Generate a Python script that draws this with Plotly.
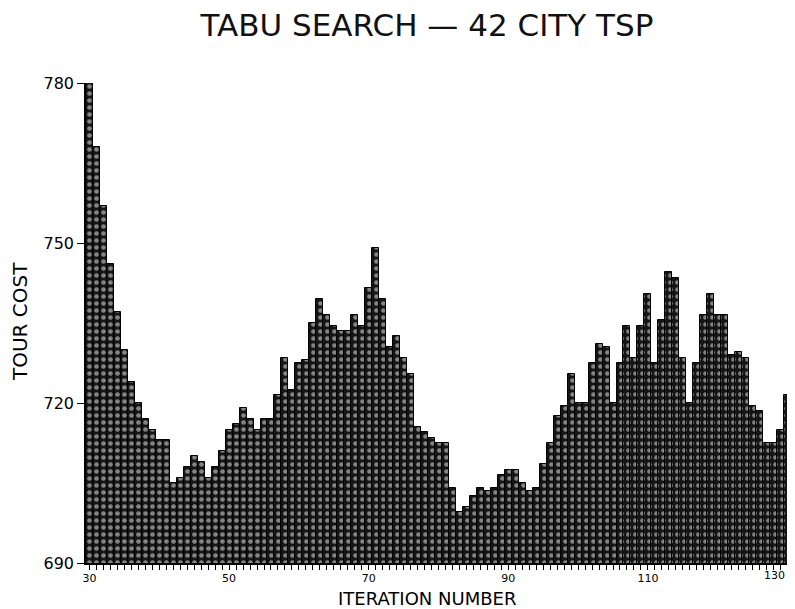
import plotly.graph_objects as go

iterations = list(range(30, 131))
tour_cost = [
    780, 768, 757, 746, 737, 730, 724, 720, 717, 715,
    713, 713, 705, 706, 708, 710, 709, 706, 708, 711,
    715, 716, 719, 717, 715, 717, 717, 721.5, 728.5, 722.5,
    727.5, 728, 735, 739.5, 736.5, 734.5, 733.5, 733.5, 736.5, 734.5,
    741.5, 749, 739.5, 730.5, 732.5, 728.5, 725.5, 715.5, 714.5, 713.5,
    712.5, 712.5, 704, 699.5, 700.5, 702.5, 704, 703.5, 704, 706.5,
    707.5, 707.5, 705, 703.5, 704, 708.5, 712.5, 717.5, 719.5, 725.5,
    720, 720, 727.5, 731, 730.5, 720, 727.5, 734.5, 728.5, 734.5,
    740.5, 727.5, 735.5, 744.5, 743.5, 728.5, 720, 727.5, 736.5, 740.5,
    736.5, 736.5, 729, 729.5, 728.5, 719.5, 718.5, 712.5, 712.5, 715,
    721.5,
]
x_tick_vals = [30, 50, 70, 90, 110, 130]
x_tick_text = ["30", "50", "70", "90", "110", ""]
last_tick_label = "130"
y_tick_vals = [690, 720, 750, 780]

fig = go.Figure(
    go.Bar(
        x=iterations,
        y=tour_cost,
        marker=dict(
            color="#222222",
            line=dict(color="black", width=1),
            pattern=dict(shape=".", bgcolor="#151515", fgcolor="#f4f4f4",
                         size=7, solidity=0.35),
        ),
        width=1,
    )
)

font = "DejaVu Sans"
fig.update_layout(
    width=795, height=609,
    margin=dict(l=78, r=12, t=75, b=54, autoexpand=False),
    paper_bgcolor="white", plot_bgcolor="white",
    bargap=0, showlegend=False,
    title=dict(text="TABU SEARCH \u2014 42 CITY TSP", x=0.527, xanchor="center",
               y=1 - 17 / 609, yanchor="middle", yref="container",
               font=dict(family=font, size=31, color="#111")),
    xaxis=dict(range=[29.5, 130.5], tickvals=x_tick_vals, ticktext=x_tick_text,
               ticks="outside", ticklen=4, tickwidth=1, tickcolor="black",
               automargin=False,
               showline=True, linecolor="black", linewidth=1.5,
               showgrid=False, zeroline=False,
               tickfont=dict(family=font, size=11, color="black"),
               minor=dict(dtick=1, tick0=30, ticks="outside", ticklen=5,
                          tickcolor="black", showgrid=False)),
    yaxis=dict(range=[690, 780], tickvals=y_tick_vals, ticks="outside",
               ticklen=7, tickwidth=1, tickcolor="black", automargin=False,
               showline=True, linecolor="black", linewidth=1.5,
               showgrid=False, zeroline=False,
               tickfont=dict(family=font, size=16, color="black")),
    annotations=[
        dict(text=last_tick_label, xref="x", yref="paper",
             x=x_tick_vals[-1], y=0, xanchor="right", yanchor="top",
             xshift=-1, yshift=-4, showarrow=False,
             font=dict(family=font, size=11, color="black")),
        dict(text="ITERATION NUMBER", xref="paper", yref="paper",
             x=0.484, y=-0.0735, xanchor="center", yanchor="middle",
             showarrow=False, font=dict(family=font, size=18, color="black")),
        dict(text="TOUR COST", xref="paper", yref="paper",
             x=-0.0936, y=0.502, xanchor="center", yanchor="middle",
             textangle=-90, showarrow=False,
             font=dict(family=font, size=20, color="black")),
    ],
)

fig.write_html("out.html")
